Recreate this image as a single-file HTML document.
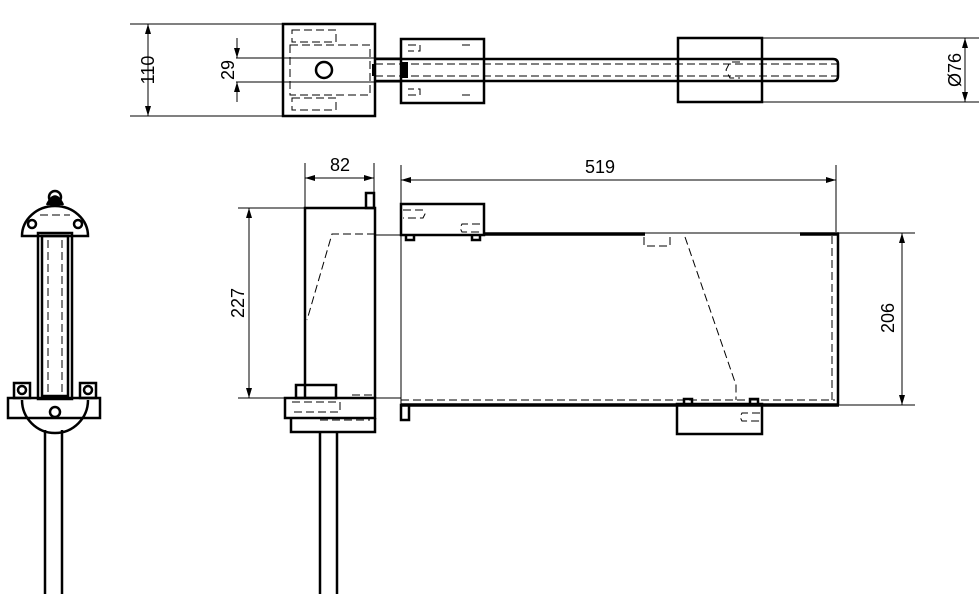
<!DOCTYPE html>
<html><head><meta charset="utf-8"><style>html,body{margin:0;padding:0;background:#fff}svg{display:block}</style></head><body>
<svg width="979" height="594" viewBox="0 0 979 594" xmlns="http://www.w3.org/2000/svg">
<defs>
<marker id="a" viewBox="0 0 10 6" refX="10" refY="3" markerWidth="11" markerHeight="6" orient="auto-start-reverse" markerUnits="userSpaceOnUse"><path d="M0,0L10,3L0,6z" fill="#000"/></marker>
</defs>
<g fill="none" stroke="#000" stroke-width="1">
<line x1="130" y1="24" x2="284" y2="24"/><line x1="130" y1="116" x2="284" y2="116"/>
<line x1="148" y1="24" x2="148" y2="116" marker-start="url(#a)" marker-end="url(#a)"/>
<line x1="236" y1="58" x2="400" y2="58"/><line x1="236" y1="82" x2="400" y2="82"/>
<line x1="237" y1="38" x2="237" y2="58" marker-end="url(#a)"/><line x1="237" y1="102" x2="237" y2="82" marker-end="url(#a)"/>
<line x1="762" y1="38" x2="979" y2="38"/><line x1="762" y1="102" x2="979" y2="102"/>
<line x1="965" y1="38" x2="965" y2="102" marker-start="url(#a)" marker-end="url(#a)"/>
</g>
<g fill="none" stroke="#000" stroke-width="2.5">
<rect x="283" y="24" width="92" height="92"/>
<rect x="401" y="39" width="83" height="64"/>
<rect x="678" y="38" width="84" height="64"/>
<path d="M375,59H833Q838,59 838,64V76Q838,81 833,81H375"/>
<circle cx="324" cy="70" r="8"/>
</g>
<g fill="none" stroke="#000" stroke-width="1" stroke-dasharray="8,4">
<rect x="292" y="30" width="44" height="12"/><rect x="292" y="98" width="44" height="12"/>
<rect x="290" y="45" width="80" height="50"/>
<line x1="375" y1="64" x2="838" y2="64"/><line x1="375" y1="76" x2="838" y2="76"/>
<path d="M408,45h12v6h-12M408,95h12v-6h-12M462,45h12M462,95h12"/>
<path d="M740,62h-10l-4,8l4,8h10"/>
</g>
<g fill="#000"><rect x="400" y="62" width="8" height="16"/><rect x="372" y="64" width="4" height="12"/></g>
<g font-family="Liberation Sans, sans-serif" font-size="18" fill="#000">
<text transform="translate(154,70) rotate(-90)" text-anchor="middle">110</text>
<text transform="translate(234,70) rotate(-90)" text-anchor="middle">29</text>
<text transform="translate(961,70) rotate(-90)" text-anchor="middle">Ø76</text>
<text x="340" y="171" text-anchor="middle">82</text>
<text x="600" y="173" text-anchor="middle">519</text>
<text transform="translate(244,303) rotate(-90)" text-anchor="middle">227</text>
<text transform="translate(894,318) rotate(-90)" text-anchor="middle">206</text>
</g>

<g fill="none" stroke="#000" stroke-width="1">
<line x1="305" y1="163" x2="305" y2="210"/><line x1="374" y1="163" x2="374" y2="195"/>
<line x1="305" y1="178" x2="374" y2="178" marker-start="url(#a)" marker-end="url(#a)"/>
<line x1="401" y1="165" x2="401" y2="404"/><line x1="836" y1="165" x2="836" y2="232"/>
<line x1="401" y1="180" x2="836" y2="180" marker-start="url(#a)" marker-end="url(#a)"/>
<line x1="238" y1="208" x2="305" y2="208"/><line x1="238" y1="398" x2="290" y2="398"/>
<line x1="249" y1="208" x2="249" y2="398" marker-start="url(#a)" marker-end="url(#a)"/>
<line x1="835" y1="233" x2="915" y2="233"/><line x1="835" y1="405" x2="915" y2="405"/>
<line x1="902" y1="233" x2="902" y2="405" marker-start="url(#a)" marker-end="url(#a)"/>
<line x1="375" y1="235" x2="401" y2="235"/><line x1="375" y1="398" x2="401" y2="398"/>
<line x1="645" y1="233" x2="800" y2="233"/>
</g>
<g fill="none" stroke="#000" stroke-width="2.5">
<path d="M305,398V208H375V398"/>
<rect x="366" y="193" width="8" height="15"/>
<path d="M838,233V405"/>
<rect x="401" y="204" width="83" height="31"/>
<rect x="677" y="404" width="85" height="30"/>
<rect x="285" y="398" width="90" height="20"/>
<path d="M291,418V432H375V418"/>
<rect x="296" y="385" width="40" height="13"/>
<path d="M320,432V594M337,432V594"/>
<rect x="401" y="405" width="8" height="15"/>
<path d="M406,235v5h8v-5M472,235v5h8v-5M684,403v-4h8v4M750,403v-4h8v4"/>
</g>
<g fill="none" stroke="#000" stroke-width="3.5">
<path d="M484,234H645M800,234H839M401,405H839"/>
</g>
<g fill="none" stroke="#000" stroke-width="1" stroke-dasharray="8,4">
<path d="M375,234H332L307,320"/>
<path d="M685,237L736,385V400"/>
<line x1="401" y1="400" x2="835" y2="400"/><line x1="832" y1="236" x2="832" y2="402"/>
<path d="M644,237v9h26v-9"/>
<path d="M403,210h20l2,4l-2,4h-20M480,224h-18l-2,4l2,4h18"/>
<path d="M760,413h-18l-2,4l2,4h18"/>
<path d="M292,402h48v10h-48M320,420h50M352,395h20"/>
</g>

<g fill="none" stroke="#000" stroke-width="2.5">
<path d="M22,236A33,30 0 0 1 88,236Z"/>
<circle cx="55" cy="197" r="6"/>
<path d="M47,205Q55,188 63,205" fill="#000"/>
<circle cx="32" cy="224" r="4"/><circle cx="78" cy="224" r="4"/>
<rect x="38" y="233" width="34" height="166"/>
<rect x="42" y="236" width="26" height="160"/>
<rect x="8" y="398" width="92" height="20"/>
<rect x="14" y="383" width="16" height="15"/><rect x="80" y="383" width="16" height="15"/>
<circle cx="22" cy="390" r="4"/><circle cx="88" cy="390" r="4"/>
<path d="M22,400A33,33 0 0 0 88,400"/>
<circle cx="55" cy="412" r="5"/>
<path d="M45,430V594M62,430V594"/>
</g>
<g fill="none" stroke="#000" stroke-width="1" stroke-dasharray="8,4">
<line x1="62" y1="240" x2="62" y2="395"/><line x1="48" y1="240" x2="48" y2="395"/>
<path d="M40,215h30"/>
</g>
</svg>
</body></html>
